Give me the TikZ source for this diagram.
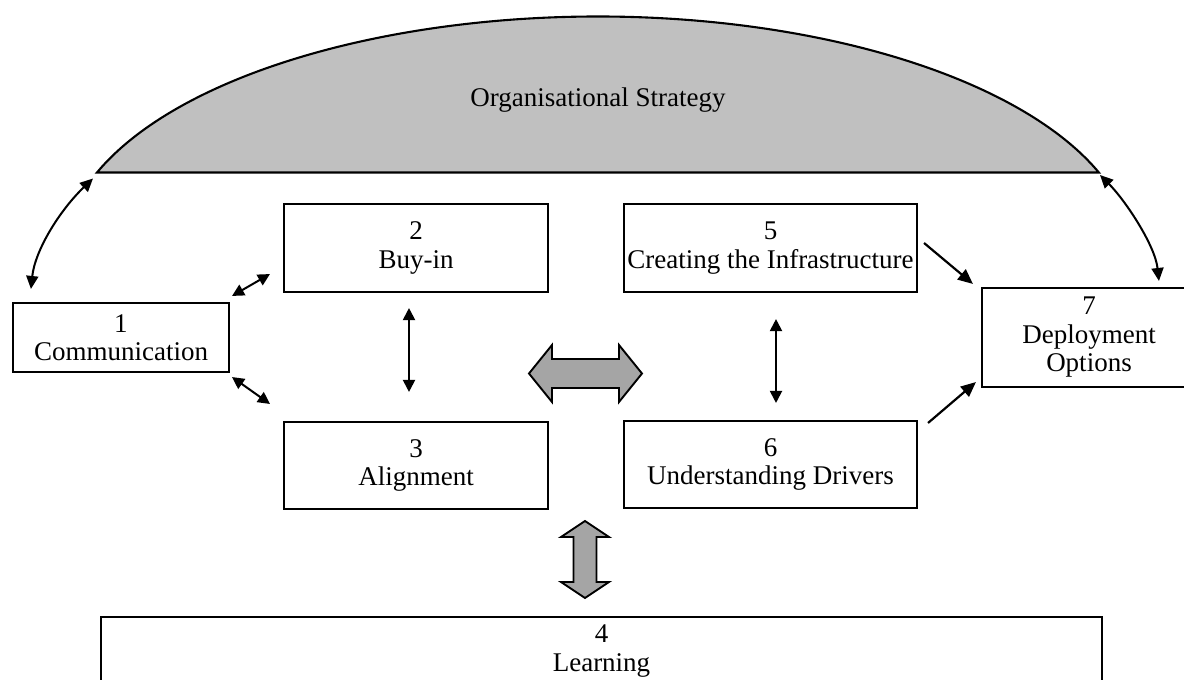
\documentclass[tikz,border=0pt]{standalone}
\usepackage{fontspec}
\setmainfont{Liberation Serif}
\usetikzlibrary{arrows.meta}
\definecolor{domegray}{RGB}{192,192,192}
\definecolor{blockgray}{RGB}{165,165,165}
\begin{document}
\begin{tikzpicture}[x=1pt,y=-1pt,
  txt/.style={font=\fontsize{27}{28.5}\selectfont},
  box/.style={draw=black, line width=2.1pt, inner sep=0pt, align=center, txt},
  link/.style={line width=2pt, {Triangle[length=12pt,width=12pt]}-{Triangle[length=12pt,width=12pt]}},
  curvelink/.style={line width=2pt, {Triangle[length=13pt,width=12pt]}-{Triangle[length=13pt,width=12pt]}},
  feed/.style={line width=2.2pt, -{Triangle[length=15pt,width=13pt]}},
  blockarrow/.style={draw=black, line width=1.9pt, fill=blockgray, line join=miter}]
\useasboundingbox (0,0) rectangle (1184,680);
\clip (0,0) rectangle (1184,680);

% strategy dome
\coordinate (domeL) at (97,172.5);
\coordinate (domeR) at (1099,172.5);
\draw[fill=domegray, line width=2.1pt] (domeL)
  arc[start angle=-159.45, end angle=-20.55, x radius=535, y radius=240.3] -- cycle;
\node[txt, anchor=base] (strat) at (598,106) {Organisational Strategy};

% boxes
\node[box, minimum width=216pt, minimum height=69pt] (b1) at (121,337.5) {1\\Communication};
\node[box, minimum width=264pt, minimum height=88pt] (b2) at (416,248) {2\\Buy-in};
\node[box, minimum width=264pt, minimum height=87pt] (b3) at (416,465.5) {3\\Alignment};
\node[box, minimum width=293pt, minimum height=88pt] (b5) at (770.5,248) {5\\Creating the Infrastructure};
\node[box, minimum width=293pt, minimum height=87pt] (b6) at (770.5,464.5) {6\\Understanding Drivers};
\node[box, minimum width=214pt, minimum height=99pt] (b7) at (1089,337.5) {7\\Deployment\\Options};
\node[box, minimum width=1001pt, minimum height=83pt] (b4) at (601.5,658.5) {};
\node[txt, align=center, inner sep=0pt, anchor=north] (t4) at (601.5,625) {4\\Learning};

% links between the boxes
\draw[link] ([shift={(2,-6)}]b1.north east) -- ([shift={(-13,-19)}]b2.south west);
\draw[link] ([shift={(2,4)}]b1.south east) -- ([shift={(-13,-17)}]b3.north west);
\draw[link] ([shift={(-7,15)}]b2.south) -- ([shift={(-7,-29)}]b3.north);
\draw[link] ([shift={(5.5,26)}]b5.south) -- ([shift={(5.5,-17)}]b6.north);
\draw[feed] ([shift={(6,-5)}]b5.east) -- ([shift={(-8,-3)}]b7.north west);
\draw[feed] ([shift={(10,3)}]b6.north east) -- ([shift={(-5,-6)}]b7.south west);

% curved links to the strategy
\draw[curvelink] ([shift={(-4,6)}]domeL) .. controls (60,210) and (35,250) .. ([shift={(19,-13)}]b1.north west);
\draw[curvelink] ([shift={(1,2.5)}]domeR) .. controls (1125,200) and (1155,245) .. ([shift={(178,-6)}]b7.north west);

% broad two-way arrows
\draw[blockarrow] (529,373.5) -- (552,345) -- (552,359) -- (619,359) -- (619,345) -- (642,373.5)
  -- (619,402) -- (619,388) -- (552,388) -- (552,402) -- cycle;
\draw[blockarrow] (585,521) -- (609,537) -- (596.5,537) -- (596.5,582) -- (609,582) -- (585,598)
  -- (561,582) -- (573.5,582) -- (573.5,537) -- (561,537) -- cycle;
\end{tikzpicture}
\end{document}
